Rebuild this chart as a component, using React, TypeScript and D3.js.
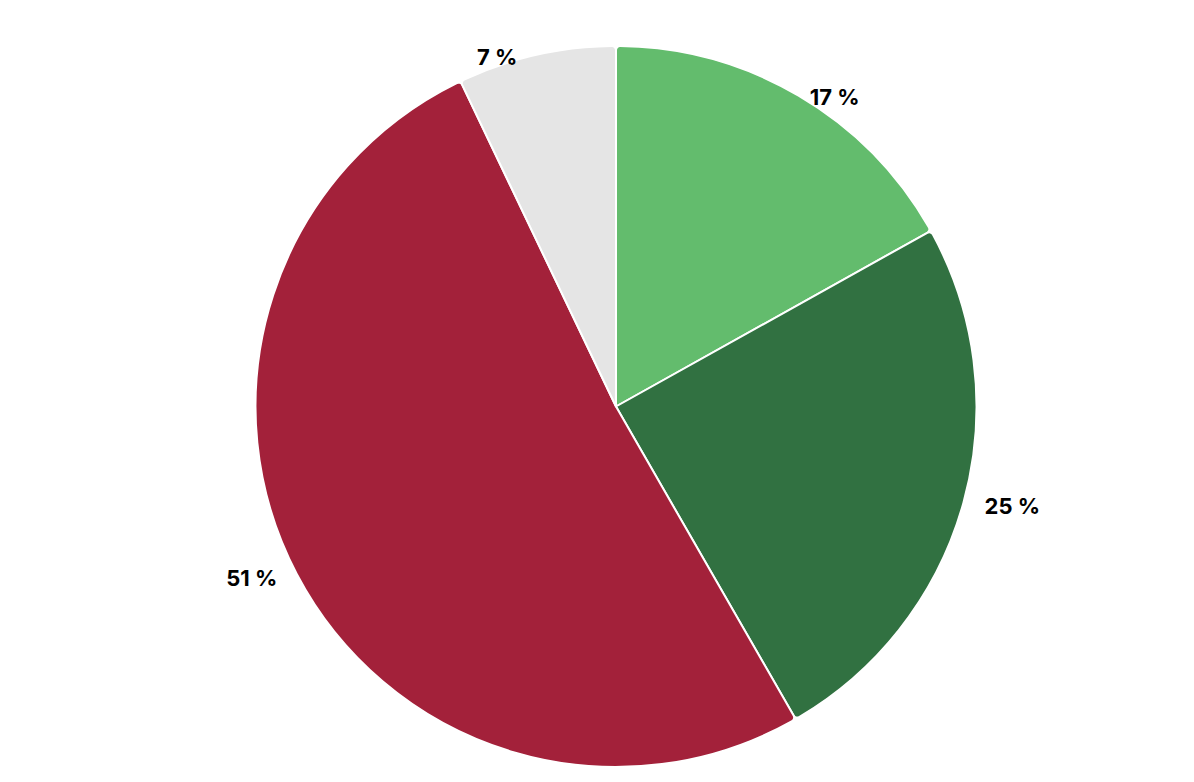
import React from "react";
import * as d3 from "d3";

const categories = ["A", "B", "C", "D"];
const values = [16.9, 24.8, 51.2, 7.1];
const colors = ["#63bc6d", "#317141", "#a3213a", "#e5e5e5"];

const W = 1194;
const H = 782;
const cx = 616;
const cy = 406.5;
const R = 360.5;

export default function App() {
  const total = d3.sum(values);
  const pie = d3.pie<number>().sort(null).value((d) => d)(values);
  const arc = d3
    .arc<d3.PieArcDatum<number>>()
    .innerRadius(0)
    .outerRadius(R)
    .cornerRadius(4);
  return (
    <svg
      width={W}
      height={H}
      style={{ position: "absolute", left: 0, top: 0, background: "#fff" }}
    >
      <g transform={`translate(${cx},${cy})`}>
        {pie.map((p, i) => (
          <path
            key={categories[i]}
            d={arc(p) || ""}
            fill={colors[i]}
            stroke="#fff"
            strokeWidth={2}
            strokeLinejoin="round"
          />
        ))}
        {pie.map((p, i) => {
          const a = (p.startAngle + p.endAngle) / 2;
          const s = Math.sin(a);
          const c = Math.cos(a);
          const x = s * (R + 22) - (c > 0.9 ? 14 : 0);
          const y = -c * R + (c < 0 ? 4 : 2);
          return (
            <text
              key={"l" + i}
              x={x}
              y={y}
              dy="0.35em"
              textAnchor={s >= 0 ? "start" : "end"}
              style={{
                fontFamily: "Inter, 'Noto Sans', sans-serif",
                fontWeight: 700,
                fontSize: 22,
                fill: "#000",
              }}
            >
              {`${Math.round((values[i] / total) * 100)} %`}
            </text>
          );
        })}
      </g>
    </svg>
  );
}
